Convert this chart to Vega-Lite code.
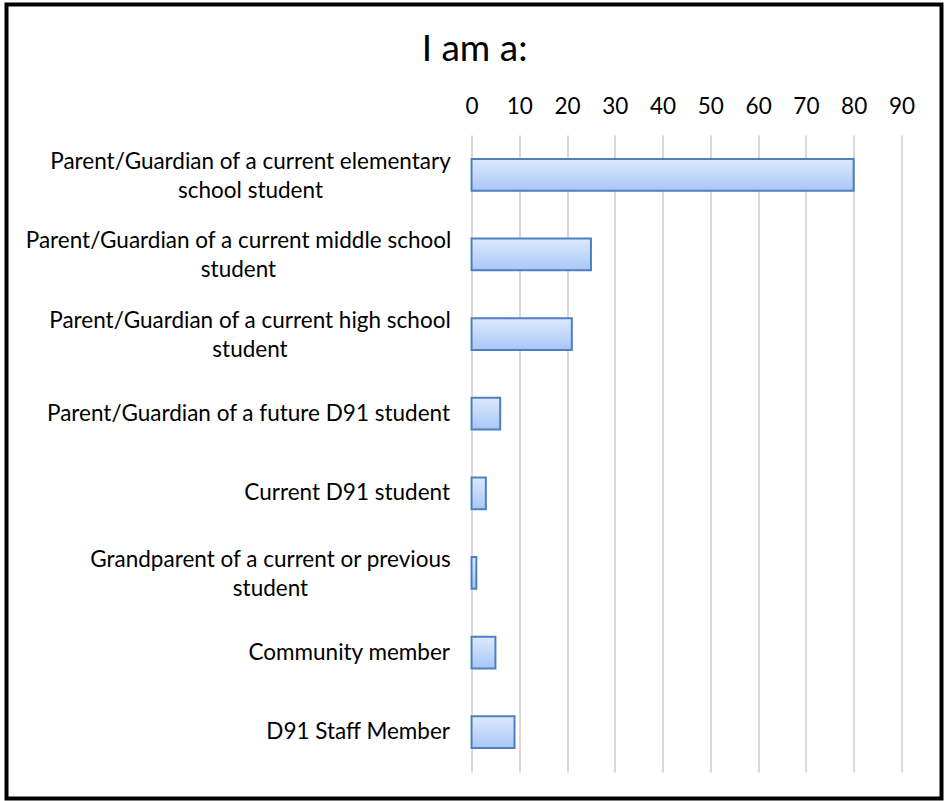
{
  "$schema": "https://vega.github.io/schema/vega-lite/v6.json",
  "width": 951,
  "height": 801,
  "autosize": {"type": "fit", "contains": "padding"},
  "padding": {"left": 6.5, "top": 4.5, "right": 9.5, "bottom": 2.5},
  "background": "#ffffff",
  "data": {
    "values": [
      {"role": "Parent/Guardian of a current elementary|school student", "count": 80},
      {"role": "Parent/Guardian of a current middle school|student", "count": 25},
      {"role": "Parent/Guardian of a current high school|student", "count": 21},
      {"role": "Parent/Guardian of a future D91 student", "count": 6},
      {"role": "Current D91 student", "count": 3},
      {"role": "Grandparent of a current or previous|student", "count": 1},
      {"role": "Community member", "count": 5},
      {"role": "D91 Staff Member", "count": 9}
    ]
  },
  "mark": {
    "type": "bar",
    "fill": {
      "gradient": "linear",
      "x1": 0, "y1": 0, "x2": 0, "y2": 1,
      "stops": [
        {"offset": 0, "color": "#dde9fd"},
        {"offset": 1, "color": "#a8c7f7"}
      ]
    },
    "stroke": "#4f7fc0",
    "strokeWidth": 2
  },
  "encoding": {
    "y": {
      "field": "role",
      "type": "nominal",
      "sort": null,
      "scale": {"range": [130.5, 767.5], "paddingInner": 0.6, "paddingOuter": 0.3},
      "axis": {
        "orient": "left",
        "offset": -443,
        "title": null,
        "domain": false,
        "ticks": false,
        "labelAlign": {"condition": {"test": "indexof(datum.value, '|') >= 0", "value": "center"}, "value": "right"},
        "labelPadding": {
          "condition": [
            {"test": "indexof(datum.value, 'elementary') >= 0", "value": 199.5},
            {"test": "indexof(datum.value, 'middle') >= 0", "value": 211.5},
            {"test": "indexof(datum.value, 'high') >= 0", "value": 200},
            {"test": "indexof(datum.value, 'Grandparent') >= 0", "value": 179.5}
          ],
          "value": 0
        },
        "labelOffset": {"condition": {"test": "indexof(datum.value, '|') >= 0", "value": -13}, "value": 0},
        "labelBaseline": "middle",
        "labelExpr": "split(datum.label, '|')",
        "labelLineHeight": 29,
        "labelFont": "Lato",
        "labelFontSize": 22.5,
        "labelColor": "#000000",
        "labelLimit": 0,
        "grid": false
      }
    },
    "x": {
      "field": "count",
      "type": "quantitative",
      "scale": {"domain": [-97.36, 98.39], "nice": false, "zero": false},
      "axis": {
        "orient": "top",
        "offset": -113,
        "values": [0, 10, 20, 30, 40, 50, 60, 70, 80, 90],
        "domain": false,
        "ticks": false,
        "labelPadding": 4.5,
        "labelBaseline": "alphabetic",
        "labelFont": "Lato",
        "labelFontSize": 22.5,
        "labelColor": "#000000",
        "labelFlush": false,
        "labelOverlap": false,
        "grid": true,
        "gridColor": "#d9d9d9",
        "gridWidth": 2,
        "title": "I am a:",
        "titleFont": "Lato",
        "titleFontSize": 37,
        "titleFontWeight": "normal",
        "titleColor": "#000000",
        "titleBaseline": "alphabetic",
        "titleY": -57
      }
    },
    "x2": {"datum": 0}
  },
  "config": {
    "view": {"stroke": "#000000", "strokeWidth": 4}
  }
}
